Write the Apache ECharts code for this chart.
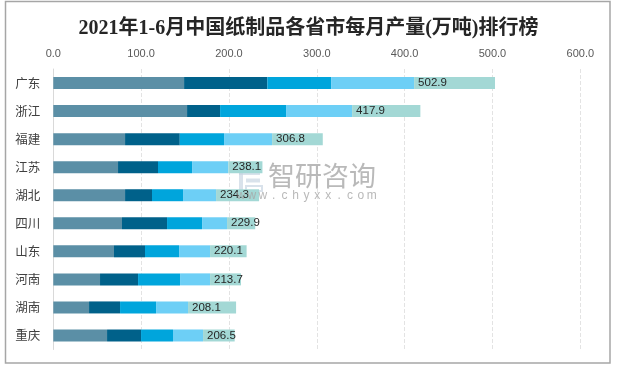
<!DOCTYPE html>
<html><head><meta charset="utf-8">
<script src="https://cdn.jsdelivr.net/npm/echarts@6/dist/echarts.min.js"></script>
<style>html,body{margin:0;padding:0;background:#fff}#c{width:617px;height:367px}</style>
</head><body><div id="c"></div>
<script>
const categories = ['广东','浙江','福建','江苏','湖北','四川','山东','河南','湖南','重庆'];
const seriesNames = ['1-2月','3月','4月','5月','6月'];
const s1 = [148.9,152.3,81.7,73.7,81.7,78.2,69.1,53.2,40.7,61.2];
const s2 = [94.8,37.6,62.3,45.5,30.7,51.3,35.3,43.3,35.3,38.7];
const s3 = [72.6,75.1,50.4,38.8,35.3,39.9,38.8,47.8,41.0,36.4];
const s4 = [94.5,75.2,54.7,41.3,37.6,28.4,35.3,34.2,36.4,34.2];
const s5 = [92.1,77.7,57.7,38.8,49.0,32.1,41.6,35.2,54.7,36.0];
const totals = [502.9,417.9,306.8,238.1,234.3,229.9,220.1,213.7,208.1,206.5];
const colors = ['#5b8fa6','#00618a','#00a5dc','#6dcff6','#a3d8d5'];
const allSeries = [s1,s2,s3,s4,s5];

const chart = echarts.init(document.getElementById('c'), null, {renderer:'canvas'});
const series = allSeries.map((d,i)=>({
  name: seriesNames[i], type:'bar', stack:'total', data:d, barWidth:12,
  itemStyle:{color:colors[i]},
  label: i===4 ? {show:true, position:'insideLeft', distance:4,
    formatter:p=>totals[p.dataIndex].toFixed(1),
    color:'#262626', fontSize:11.5, fontFamily:'Liberation Sans, Arial, sans-serif'} : {show:false}
}));
const wm = [];
const logoStyle = {fill:'#c9d5e2', opacity:0.7};
wm.push({type:'rect', z:1, silent:true, shape:{x:239, y:171, width:4, height:21}, style:logoStyle});
wm.push({type:'rect', z:1, silent:true, shape:{x:239, y:171, width:21, height:4}, style:logoStyle});
wm.push({type:'rect', z:1, silent:true, shape:{x:246, y:178.5, width:14, height:4}, style:logoStyle});
wm.push({type:'rect', z:1, silent:true, shape:{x:246, y:186, width:16, height:5}, style:{fill:'none', stroke:'#c9d5e2', lineWidth:2, opacity:0.7}});
wm.push({type:'text', z:200, silent:true, style:{x:268, y:176, text:'智研咨询', fontSize:27, fill:'#a8a8a8', opacity:0.8, textVerticalAlign:'middle', fontFamily:'"Noto Sans CJK SC", sans-serif'}});
'www.chyxx.com'.split('').forEach((ch,i)=>{
  wm.push({type:'text', z:200, silent:true, style:{x:241 + i*10.9, y:196, text:ch, fontSize:12, fill:'#a8a8a8', opacity:0.8, textAlign:'center', textVerticalAlign:'middle', fontFamily:'Liberation Sans, sans-serif'}});
});
chart.setOption({
  animation:false,
  backgroundColor:'#fff',
  title:{text:'2021年1-6月中国纸制品各省市每月产量(万吨)排行榜', left:'center', top:14,
    textStyle:{fontSize:20, fontWeight:'bold', color:'#262626', fontFamily:'Liberation Serif, "Noto Sans CJK SC", serif'}},
  grid:{left:53.3, right:36.7, top:69, bottom:17.5, containLabel:false},
  xAxis:{type:'value', position:'top', min:0, max:600, interval:100,
    axisLine:{show:false}, axisTick:{show:false},
    axisLabel:{formatter:v=>v.toFixed(1), color:'#595959', fontSize:11, margin:10, fontFamily:'Liberation Sans, Arial, sans-serif'},
    splitLine:{show:true, lineStyle:{type:'dashed', color:'#e3e3e3', width:1}}},
  yAxis:{type:'category', data:categories, inverse:true,
    axisLine:{show:true, lineStyle:{color:'#d9d9d9', width:1}}, axisTick:{show:false},
    axisLabel:{color:'#404040', fontSize:12.5, margin:13, fontFamily:'"Noto Sans CJK SC", sans-serif'}},
  series: series,
  graphic:[
    {type:'rect', silent:true, z:-1, shape:{x:5.5, y:1.5, width:604.5, height:361.5}, style:{fill:'none', stroke:'#a6a6a6', lineWidth:1.5}}
  ].concat(wm)
});
</script></body></html>
